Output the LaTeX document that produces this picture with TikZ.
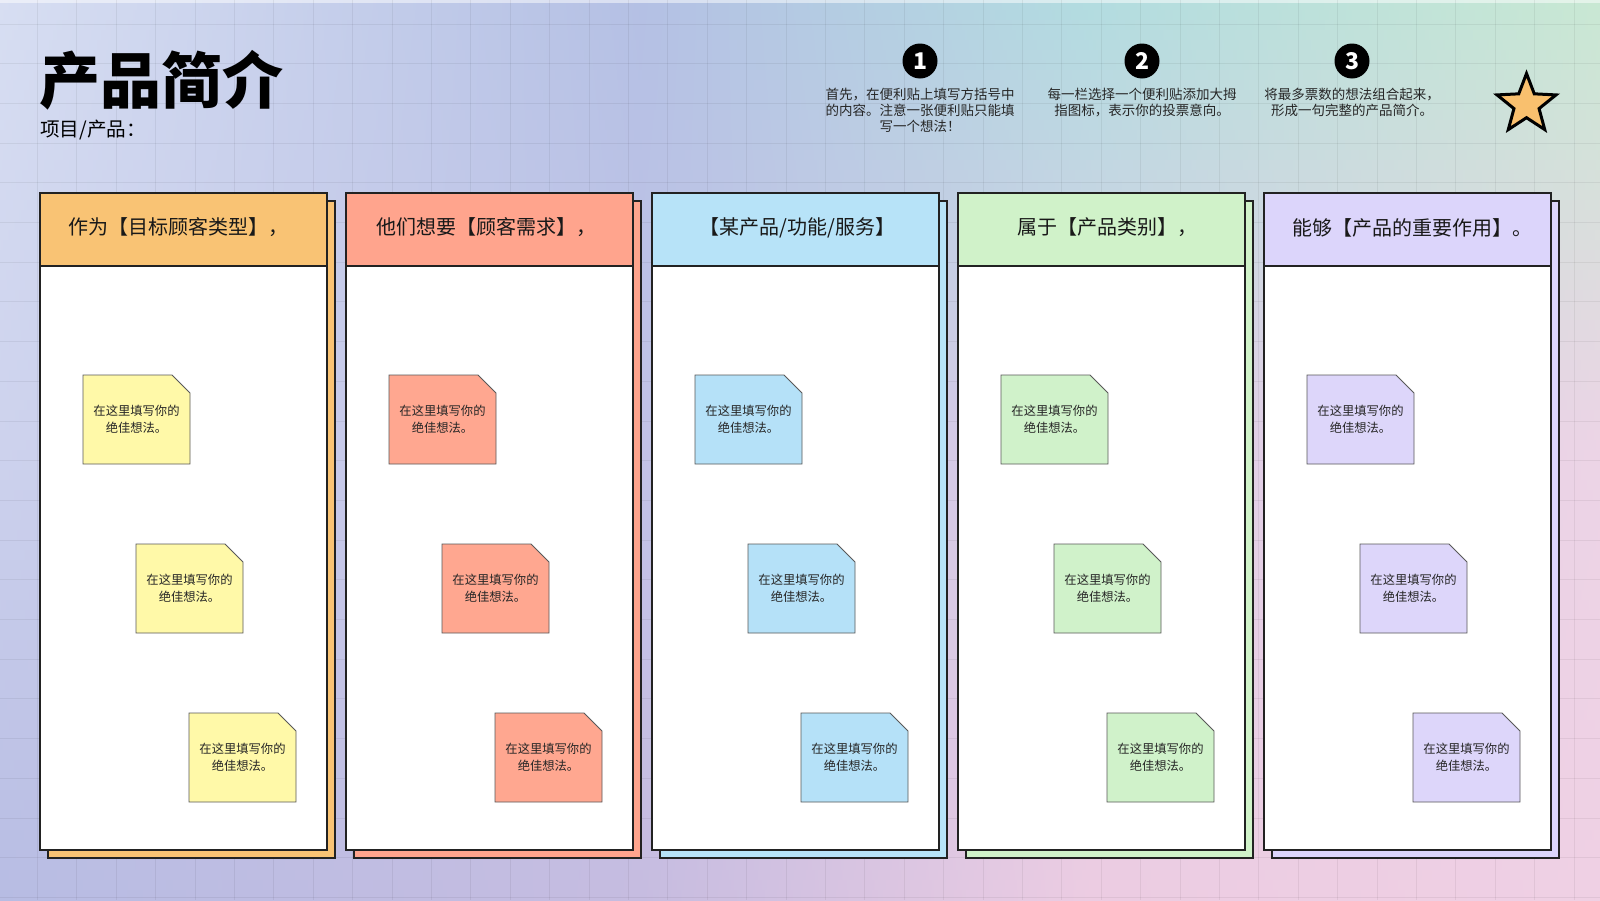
\documentclass[tikz,border=0pt]{standalone}
\usepackage{fontspec}
\setmainfont{Noto Sans CJK SC}
\definecolor{bgA}{HTML}{D7DEF2}
\definecolor{bgB}{HTML}{B4C0E4}
\definecolor{bgC}{HTML}{B2DCE0}
\definecolor{bgD}{HTML}{C8E8D3}
\definecolor{bgM}{HTML}{CDD2ED}
\definecolor{bgN}{HTML}{C2C3E7}
\definecolor{bgO}{HTML}{DCCDE6}
\definecolor{bgP}{HTML}{ECD4E6}
\definecolor{bgE}{HTML}{B7BCE3}
\definecolor{bgF}{HTML}{C6BCE0}
\definecolor{bgG}{HTML}{ECCCE2}
\definecolor{bgH}{HTML}{EFD0E4}
\definecolor{h0}{HTML}{F9C374}
\definecolor{h1}{HTML}{FFA48D}
\definecolor{h2}{HTML}{B7E3F8}
\definecolor{h3}{HTML}{D0F2C9}
\definecolor{h4}{HTML}{DCD5FB}
\definecolor{n0}{HTML}{FFF9A8}
\definecolor{n1}{HTML}{FFA790}
\definecolor{n2}{HTML}{B5E1F8}
\definecolor{n3}{HTML}{D0F2CA}
\definecolor{n4}{HTML}{DDD6FA}
\definecolor{starfill}{HTML}{F9C06E}
\definecolor{edge}{HTML}{222222}
\colorlet{sA}{bgA}\colorlet{sB}{bgB}\colorlet{sC}{bgC}\colorlet{sD}{bgD}
% the path is fitted to the middle half (25bp..75bp) of the shading
\pgfdeclarehorizontalshading[sA,sB,sC,sD]{bgrow}{100bp}{color(0bp)=(sA); color(25bp)=(sA); color(45bp)=(sB); color(59bp)=(sC); color(75bp)=(sD); color(100bp)=(sD)}
\tikzset{
  gridline/.style={black, opacity=0.06, line width=1pt},
  shadowbox/.style={rectangle, draw=edge, line width=1.6pt, minimum width=287pt, minimum height=657pt, inner sep=0pt, outer sep=0pt},
  colbox/.style={rectangle, draw=edge, fill=white, line width=1.6pt, minimum width=287pt, minimum height=657pt, inner sep=0pt, outer sep=0pt},
  headbox/.style={rectangle, draw=edge, line width=1.6pt, minimum width=287pt, minimum height=73pt, inner sep=0pt, outer sep=0pt},
  headtext/.style={inner sep=0pt, font=\fontsize{20}{22}\selectfont, text=black!90},
  notebox/.style={draw=black!65, line width=0.9pt},
  notetext/.style={align=center, inner sep=0pt, font=\fontsize{12.3}{16.5}\selectfont, text=black!85},
  stepnum/.style={circle, fill=black, text=white, minimum size=35pt, inner sep=0pt, font=\fontsize{23}{23}\selectfont\bfseries},
  instr/.style={align=center, inner sep=0pt, anchor=north, font=\fontsize{13.5}{16}\selectfont, text=black!85},
  starstyle/.style={fill=starfill, draw=black, line width=3pt, line join=miter}
}
\begin{document}
\begin{tikzpicture}[x=1pt,y=-1pt]
\useasboundingbox (0,0) rectangle (1600,900);
% background: opaque strips, each a horizontal gradient mixed top -> middle -> bottom
\foreach \k in {0,...,89}{
  \ifnum\k<45
    \pgfmathtruncatemacro\p{round(100*(\k+0.5)/45)}
    \colorlet{sA}{bgM!\p!bgA}\colorlet{sB}{bgN!\p!bgB}\colorlet{sC}{bgO!\p!bgC}\colorlet{sD}{bgP!\p!bgD}
  \else
    \pgfmathtruncatemacro\p{round(100*(\k-44.5)/45)}
    \colorlet{sA}{bgE!\p!bgM}\colorlet{sB}{bgF!\p!bgN}\colorlet{sC}{bgG!\p!bgO}\colorlet{sD}{bgH!\p!bgP}
  \fi
  \fill[shading=bgrow] (0,{10*\k}) rectangle (1600,{10*\k+10.6});
}
\fill[white, opacity=0.5] (0,0) rectangle (1600,2.5);
\foreach \k in {0,...,40} \draw[gridline] ({37.5+39.4*\k},0) -- ({37.5+39.4*\k},900);
\foreach \k in {0,...,22} \draw[gridline] (0,{24+39.7*\k}) -- (1600,{24+39.7*\k});
% title
\node[anchor=west, inner sep=0pt, font=\fontsize{61}{61}\selectfont\bfseries] (title) at (39,80) {产品简介};
\node[anchor=west, inner sep=0pt, font=\fontsize{19.6}{22}\selectfont] (subtitle) at (40,130) {项目/产品：};
% steps
\node[stepnum] (s1) at (920,61) {1};
\node[stepnum] (s2) at (1142,61) {2};
\node[stepnum] (s3) at (1352,61) {3};
\node[instr] (t1) at (920,88) {首先，在便利贴上填写方括号中\\的内容。注意一张便利贴只能填\\写一个想法！};
\node[instr] (t2) at (1142,88) {每一栏选择一个便利贴添加大拇\\指图标，表示你的投票意向。};
\node[instr] (t3) at (1352,88) {将最多票数的想法组合起来，\\形成一句完整的产品简介。};
% star
\begin{scope}[shift={(1526.5,104.5)}, yscale=-1]
\draw[starstyle] (90:31) -- (126:13.2) -- (162:31) -- (198:13.2) -- (234:31) -- (270:13.2) -- (306:31) -- (342:13.2) -- (18:31) -- (54:13.2) -- cycle;
\end{scope}
% columns
\foreach \txt/\tx [count=\i from 0] in {{作为【目标顾客类型】，}/-5,{他们想要【顾客需求】，}/-3.5,{【某产品/功能/服务】}/2,{属于【产品类别】，}/6,{能够【产品的重要作用】。}/5}{
  \pgfmathsetmacro\L{40+306*\i}
  \node[shadowbox, fill=h\i, anchor=north west] (shadow\i) at ({\L+8},201) {};
  \node[colbox, anchor=north west] (col\i) at (\L,193) {};
  \node[headbox, fill=h\i, anchor=north west] (head\i) at (\L,193) {};
  \node[headtext] (htext\i) at ({\L+143.5+\tx},227.5) {\txt};
  \foreach \dx/\y [count=\j] in {43/375,96/544,149/713}{
    \path[notebox, fill=n\i] ({\L+\dx},\y) -- ++(89,0) -- ++(18,18) -- ++(0,71) -- ++(-107,0) -- cycle;
    \node[notetext] (note\i-\j) at ({\L+\dx+53.5},{\y+44.5}) {在这里填写你的\\绝佳想法。};
  }
}
\end{tikzpicture}
\end{document}
